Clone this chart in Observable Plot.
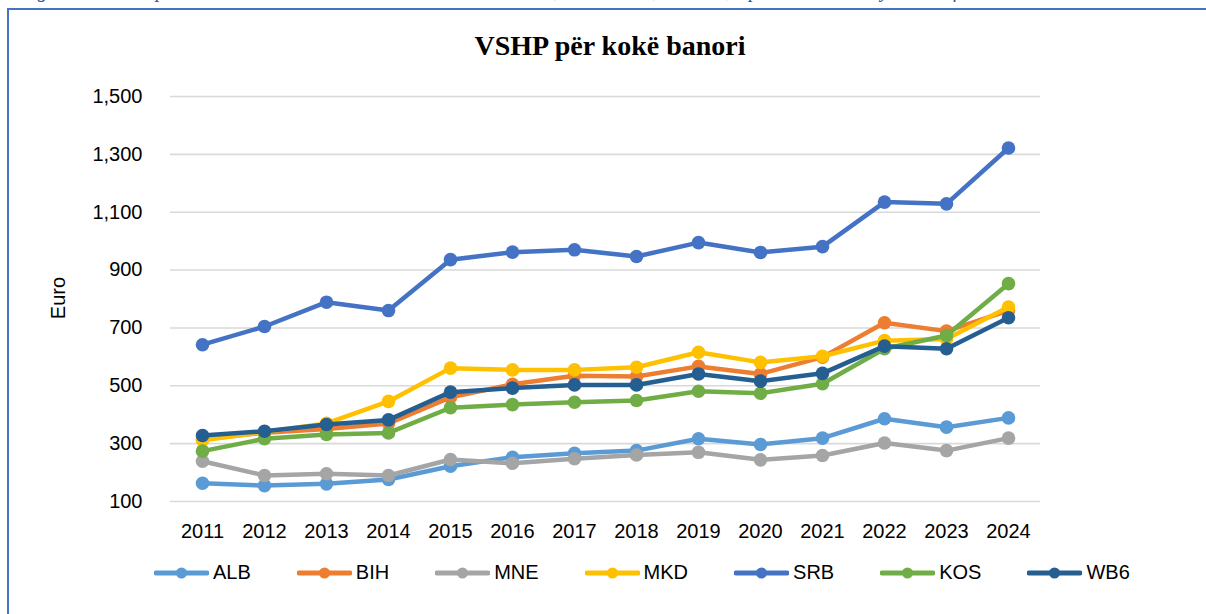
<!DOCTYPE html>
<html>
<head>
<meta charset="utf-8">
<script src="https://cdn.jsdelivr.net/npm/d3@7"></script>
<script src="https://cdn.jsdelivr.net/npm/@observablehq/plot@0.6"></script>
<style>
  html, body { margin: 0; padding: 0; background: #fff; }
  body { width: 1206px; height: 614px; overflow: hidden; position: relative; font-family: "Liberation Sans", Arial, sans-serif; }
  #frame { position: absolute; left: 7px; top: 8px; width: 1300px; height: 700px; border-left: 2px solid #4472C4; border-top: 2px solid #4472C4; }
  #caption { position: absolute; left: 20px; top: -20px; font: italic 20px/1 "Liberation Serif", "Times New Roman", serif; color: #2F5597; white-space: nowrap; }
  #title { position: absolute; left: 7px; width: 1206px; top: 32px; text-align: center; font: bold 28px/1 "Liberation Serif", "Times New Roman", serif; color: #000; }
  #ylabel { position: absolute; left: 58px; top: 298px; transform: translate(-50%, -50%) rotate(-90deg); font-size: 20px; color: #000; white-space: nowrap; }
  #chart { position: absolute; left: 0; top: 70px; }
  #legend { position: absolute; left: 154px; top: 561px; display: flex; align-items: center; gap: 46px; font-size: 20px; color: #000; }
  .item { display: flex; align-items: center; gap: 4px; }
</style>
</head>
<body>
<div id="caption">Figura 2: VSHP për kokë banori në vendet e Ballkanit Perëndimor, 2011–2024, në Euro, sipas të dhënave zyrtare të fundit</div>
<div id="frame"></div>
<div id="title">VSHP për kokë banori</div>
<div id="ylabel">Euro</div>
<div id="chart"></div>
<div id="legend"></div>
<script>
const years = [2011, 2012, 2013, 2014, 2015, 2016, 2017, 2018, 2019, 2020, 2021, 2022, 2023, 2024];
const ALB = [163, 155, 161, 176, 222, 253, 267, 276, 317, 297, 319, 386, 357, 389];
const BIH = [315, 338, 351, 370, 460, 505, 535, 532, 567, 541, 599, 718, 689, 760];
const MNE = [239, 190, 196, 190, 245, 232, 248, 261, 270, 244, 259, 302, 276, 319];
const MKD = [312, 340, 370, 446, 561, 555, 555, 564, 616, 581, 602, 656, 662, 772];
const SRB = [642, 705, 789, 760, 936, 962, 970, 947, 995, 961, 981, 1135, 1129, 1322];
const KOS = [274, 317, 332, 337, 424, 435, 443, 449, 481, 474, 507, 628, 674, 853];
const WB6 = [328, 343, 366, 382, 478, 492, 503, 503, 541, 516, 543, 637, 628, 735];
const seriesNames = ["ALB", "BIH", "MNE", "MKD", "SRB", "KOS", "WB6"];
const seriesValues = [ALB, BIH, MNE, MKD, SRB, KOS, WB6];
const colors = ["#5B9BD5", "#ED7D31", "#A5A5A5", "#FFC000", "#4472C4", "#70AD47", "#255E91"];
const yTicks = [100, 300, 500, 700, 900, 1100, 1300, 1500];

const series = seriesNames.map((name, i) => ({
  name, color: colors[i],
  data: years.map((year, j) => ({ year, value: seriesValues[i][j], name }))
}));

const marks = [
  Plot.gridY(yTicks, { stroke: "#D9D9D9", strokeOpacity: 1, strokeWidth: 1.6 }),
  Plot.axisY({ ticks: yTicks, tickSize: 0, tickPadding: 28, tickFormat: d3.format(","), label: null, fontSize: 20 }),
  Plot.axisX({ tickSize: 0, tickPadding: 22, tickFormat: d => String(d), label: null, fontSize: 20 })
];
for (const s of series) {
  marks.push(Plot.line(s.data, { x: "year", y: "value", stroke: s.color, strokeWidth: 4.5, strokeLinejoin: "round", strokeLinecap: "round" }));
  marks.push(Plot.dot(s.data, { x: "year", y: "value", fill: s.color, r: 6.8, stroke: null }));
}

const chart = Plot.plot({
  width: 1206,
  height: 470,
  marginLeft: 170,
  marginRight: 166,
  marginTop: 26,
  marginBottom: 39,
  style: { fontFamily: "Liberation Sans, Arial, sans-serif", fontSize: "20px", color: "#000", background: "transparent", overflow: "visible" },
  x: { type: "point", domain: years, padding: 0.5 },
  y: { domain: [100, 1500] },
  marks
});
document.getElementById("chart").appendChild(chart);

const legend = document.getElementById("legend");
for (const s of series) {
  const item = document.createElement("div");
  item.className = "item";
  item.innerHTML = `<svg width="55" height="14"><line x1="2" y1="7" x2="53" y2="7" stroke="${s.color}" stroke-width="5" stroke-linecap="round"/><circle cx="27.5" cy="7" r="5.5" fill="${s.color}"/></svg><span>${s.name}</span>`;
  legend.appendChild(item);
}
</script>
</body>
</html>
